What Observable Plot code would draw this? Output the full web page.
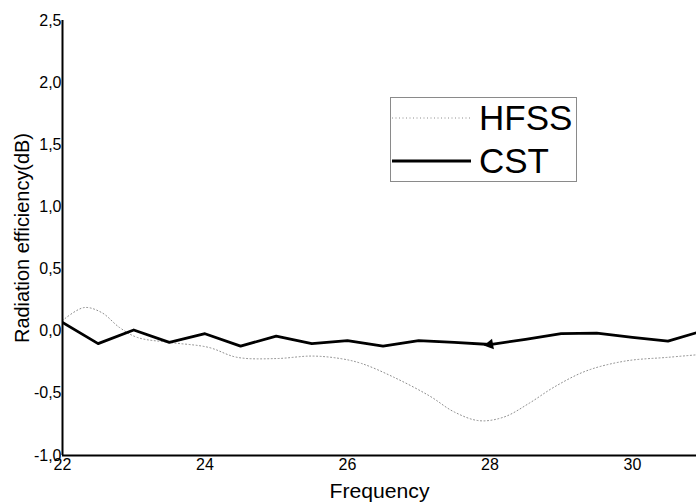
<!DOCTYPE html>
<html>
<head>
<meta charset="utf-8">
<script src="https://cdn.jsdelivr.net/npm/d3@7"></script>
<script src="https://cdn.jsdelivr.net/npm/@observablehq/plot@0.6"></script>
<style>
  html, body { margin: 0; padding: 0; background: #fff; }
  #wrap { position: relative; width: 696px; height: 503px; font-family: "Liberation Sans", Arial, sans-serif; }
  #legend { position: absolute; left: 390px; top: 97px; }
</style>
</head>
<body>
<div id="wrap"></div>
<script>
// CST series
const cstFreq = [22, 22.5, 23, 23.5, 24, 24.5, 25, 25.5, 26, 26.5, 27, 27.5, 28, 28.5, 29, 29.5, 30, 30.5, 31];
const cstVal  = [0.07, -0.10, 0.01, -0.09, -0.02, -0.12, -0.04, -0.10, -0.075, -0.12, -0.075, -0.09, -0.107, -0.065, -0.02, -0.015, -0.05, -0.08, 0.005];
// HFSS series
const hfssFreq = [22, 22.3, 22.55, 22.8, 23.05, 23.5, 24.05, 24.45, 25.0, 25.5, 25.9, 26.2, 26.65, 27.15, 27.5, 27.85, 28.2, 28.55, 28.9, 29.35, 29.9, 30.5, 30.9];
const hfssVal  = [0.086, 0.19, 0.15, 0.03, -0.05, -0.09, -0.13, -0.21, -0.22, -0.20, -0.22, -0.26, -0.37, -0.52, -0.65, -0.72, -0.69, -0.58, -0.45, -0.32, -0.24, -0.21, -0.19];
// ticks
const xTicks = [22, 24, 26, 28, 30];
const yTicks = [-1.0, -0.5, 0.0, 0.5, 1.0, 1.5, 2.0, 2.5];
const seriesNames = ["HFSS", "CST"];
const xLabel = "Frequency";
const yLabel = "Radiation efficiency(dB)";
const markerPoint = [{f: 28, v: -0.107}];

const cst = cstFreq.map((f, i) => ({f, v: cstVal[i]}));
const hfss = hfssFreq.map((f, i) => ({f, v: hfssVal[i]}));
const fmt = d => d.toFixed(1).replace(".", ",");

const chart = Plot.plot({
  width: 696,
  height: 503,
  marginLeft: 62,
  marginRight: 0,
  marginTop: 20,
  marginBottom: 48,
  style: {fontFamily: "Liberation Sans, Arial, sans-serif", fontSize: "16px", color: "#000", background: "#fff"},
  x: {domain: [22, 30.9]},
  y: {domain: [-1.0, 2.5]},
  marks: [
    Plot.lineY(hfss, {x: "f", y: "v", stroke: "#8c8c8c", strokeWidth: 1, strokeDasharray: "1,2.5", curve: "catmull-rom", clip: true}),
    Plot.lineY(cst, {x: "f", y: "v", stroke: "#000", strokeWidth: 2.8, clip: true}),
    Plot.dot(markerPoint, {x: "f", y: "v", symbol: "triangle", r: 4, fill: "#000", rotate: -100}),
    Plot.axisX({ticks: xTicks, tickSize: 0, tickPadding: 3, fontSize: 16, label: null, tickFormat: d => String(d)}),
    Plot.axisY({ticks: yTicks, tickSize: 0, tickPadding: 1, fontSize: 16, label: null, tickFormat: fmt}),
    Plot.text([xLabel], {frameAnchor: "bottom", dy: 42, fontSize: 20, fill: "#000", textAnchor: "middle"}),
    Plot.text([yLabel], {frameAnchor: "left", dx: -40, rotate: -90, fontSize: 20, fill: "#000", textAnchor: "middle"}),
    Plot.ruleX([22], {stroke: "#000", strokeWidth: 2}),
    Plot.ruleY([-1.0], {stroke: "#000", strokeWidth: 2})
  ]
});
// slight horizontal stretch of the axis titles, as in the reference
chart.querySelectorAll("text").forEach(t => {
  if (t.textContent === xLabel) { t.setAttribute("textLength", 100); t.setAttribute("lengthAdjust", "spacingAndGlyphs"); }
  if (t.textContent === yLabel) { t.setAttribute("textLength", 210); t.setAttribute("lengthAdjust", "spacingAndGlyphs"); }
});
document.getElementById("wrap").appendChild(chart);

// legend
const ns = "http://www.w3.org/2000/svg";
const leg = document.createElementNS(ns, "svg");
leg.setAttribute("id", "legend");
leg.setAttribute("width", 187);
leg.setAttribute("height", 85);
const styles = [
  {stroke: "#8c8c8c", width: 1, dash: "1,2.5", ly: 21, ty: 33},
  {stroke: "#000", width: 2.8, dash: null, ly: 64, ty: 76}
];
const box = document.createElementNS(ns, "rect");
box.setAttribute("x", 0.5); box.setAttribute("y", 0.5);
box.setAttribute("width", 186); box.setAttribute("height", 84);
box.setAttribute("fill", "#fff"); box.setAttribute("stroke", "#8a8a8a");
leg.appendChild(box);
seriesNames.forEach((name, i) => {
  const s = styles[i];
  const ln = document.createElementNS(ns, "line");
  ln.setAttribute("x1", 2); ln.setAttribute("x2", 81);
  ln.setAttribute("y1", s.ly); ln.setAttribute("y2", s.ly);
  ln.setAttribute("stroke", s.stroke); ln.setAttribute("stroke-width", s.width);
  if (s.dash) ln.setAttribute("stroke-dasharray", s.dash);
  leg.appendChild(ln);
  const tx = document.createElementNS(ns, "text");
  tx.setAttribute("x", 89); tx.setAttribute("y", s.ty);
  tx.setAttribute("font-size", 35);
  tx.setAttribute("font-family", "Liberation Sans, Arial, sans-serif");
  tx.textContent = name;
  leg.appendChild(tx);
});
document.getElementById("wrap").appendChild(leg);
</script>
</body>
</html>
